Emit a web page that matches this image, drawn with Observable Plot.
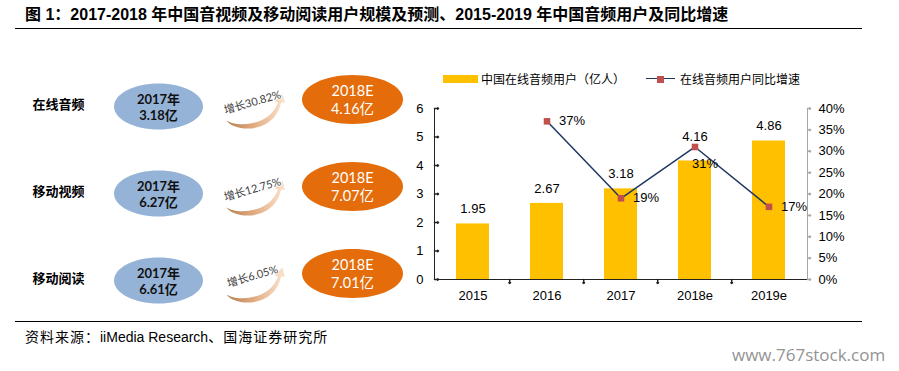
<!DOCTYPE html>
<html><head><meta charset="utf-8">
<script src="https://cdn.jsdelivr.net/npm/d3@7"></script>
<script src="https://cdn.jsdelivr.net/npm/@observablehq/plot@0.6"></script>
<style>
html,body{margin:0;padding:0;background:#fff;}
body{width:899px;height:371px;position:relative;overflow:hidden;font-family:"Liberation Sans",Arial,"Noto Sans CJK SC",sans-serif;color:#000;}
#title{position:absolute;left:25px;top:5px;font-weight:bold;font-size:16px;line-height:20px;white-space:nowrap;font-family:"Liberation Sans",Arial,"Noto Sans CJK SC",sans-serif;}
#rule1{position:absolute;left:15px;top:28px;width:847px;height:0;border-top:1.5px solid #000;}
#rule2{position:absolute;left:15px;top:321px;width:847px;height:0;border-top:1.5px solid #000;}
#source{position:absolute;left:25px;top:328px;font-size:14px;line-height:18px;white-space:nowrap;font-family:"Liberation Sans",Arial,"Noto Sans CJK SC",sans-serif;}
#source .c{letter-spacing:1px;}
#wm{position:absolute;left:732px;top:343px;font-family:"Open Sans",sans-serif;font-size:17px;line-height:24px;color:#939393;white-space:nowrap;}
.lg{position:absolute;font-family:"Noto Sans CJK SC",sans-serif;font-size:12px;line-height:16px;white-space:nowrap;}
#left{position:absolute;left:0;top:40px;}
#right{position:absolute;left:400px;top:90px;}
</style></head>
<body>
<div id="title">图 1：2017-2018 年中国音视频及移动阅读用户规模及预测、2015-2019 年中国音频用户及同比增速</div>
<div id="rule1"></div>
<div id="left"></div>
<div id="legend">
  <div style="position:absolute;left:443px;top:75px;width:35px;height:8px;background:#FFC000;"></div>
  <div class="lg" style="left:481px;top:71px;">中国在线音频用户（亿人）</div>
  <div style="position:absolute;left:646px;top:78px;width:29px;height:0;border-top:1.5px solid #1F3864;"></div>
  <div style="position:absolute;left:657px;top:75.5px;width:7px;height:7px;background:#C0504D;"></div>
  <div class="lg" style="left:680px;top:71px;">在线音频用户同比增速</div>
</div>
<div id="right"></div>
<div id="rule2"></div>
<div id="source"><span class="c">资料来源：</span>iiMedia Research<span class="c">、国海证券研究所</span></div>
<div id="wm">www.767stock.com</div>
<script>
// ---- Left infographic data ----
const cats = ["在线音频", "移动视频", "移动阅读"];
const users2017 = [3.18, 6.27, 6.61];
const users2018E = [4.16, 7.07, 7.01];
const growthPct = [30.82, 12.75, 6.05];
const cols = ["name", "y2017", "growth", "y2018"];

// ---- Right chart data ----
const years = ["2015", "2016", "2017", "2018e", "2019e"];
const audioUsers = [1.95, 2.67, 3.18, 4.16, 4.86];
const audioGrowth = [null, 37, 19, 31, 17];
const leftTicks = [0, 1, 2, 3, 4, 5, 6];
const pctTicks = [0, 5, 10, 15, 20, 25, 30, 35, 40];

// ---- symbols ----
function ellipse(ratio) {
  return {
    draw(ctx, size) {
      const rx = Math.sqrt(size / Math.PI), ry = rx * ratio, k = 0.5523;
      ctx.moveTo(rx, 0);
      ctx.bezierCurveTo(rx, ry * k, rx * k, ry, 0, ry);
      ctx.bezierCurveTo(-rx * k, ry, -rx, ry * k, -rx, 0);
      ctx.bezierCurveTo(-rx, -ry * k, -rx * k, -ry, 0, -ry);
      ctx.bezierCurveTo(rx * k, -ry, rx, -ry * k, rx, 0);
      ctx.closePath();
    }
  };
}
const curvedArrow = {
  draw(ctx) {
    ctx.moveTo(-26, 18);
    ctx.bezierCurveTo(-18, 30, 22, 32, 28.5, 0);
    ctx.lineTo(32.5, 0.5);
    ctx.lineTo(30, -9);
    ctx.lineTo(22, -1);
    ctx.lineTo(25.5, -0.5);
    ctx.bezierCurveTo(18, 24, -16, 25, -26, 18);
    ctx.closePath();
  }
};

const rows = cats.map((c, i) => ({cat: c, u17: users2017[i], u18: users2018E[i], g: growthPct[i]}));
const cjk = "\"Noto Sans CJK SC\", sans-serif";
const latin = "Lato, \"Noto Sans CJK SC\", sans-serif";

const leftPlot = Plot.plot({
  width: 420, height: 290,
  marginLeft: 57, marginRight: 67, marginTop: 63, marginBottom: 53,
  x: {type: "point", domain: cols, padding: 0, axis: null},
  y: {type: "point", domain: cats, padding: 0, axis: null},
  style: {background: "transparent", overflow: "visible"},
  marks: [
    Plot.text(rows, {x: () => "name", y: "cat", text: "cat", fontWeight: "bold", fontSize: 13, fontFamily: cjk, fill: "#000", dy: 1}),
    Plot.dot(rows, {x: () => "y2017", y: "cat", r: 44.5, symbol: ellipse(0.517), fill: "#95B3D7", stroke: "none", dx: 2, dy: 3}),
    Plot.text(rows, {x: () => "y2017", y: "cat", text: d => `2017年\n${d.u17.toFixed(2)}亿`, fontWeight: "bold", fontSize: 13, lineHeight: 1.22, fontFamily: latin, fill: "#111", dx: 2, dy: 3}),
    Plot.dot(rows, {x: () => "y2018", y: "cat", r: 50.5, symbol: ellipse(0.485), fill: "#E46C0A", stroke: "none", dy: -4}),
    Plot.text(rows, {x: () => "y2018", y: "cat", text: d => `2018E\n${d.u18.toFixed(2)}亿`, fontSize: 14.5, lineHeight: 1.18, fontFamily: latin, fill: "#fff", dy: -4}),
    Plot.dot(rows, {x: () => "growth", y: "cat", r: 10, symbol: curvedArrow, fill: "url(#arrowGrad)", stroke: "none", dx: -2, dy: -1}),
    Plot.text(rows, {x: () => "growth", y: "cat", text: d => `增长${d.g.toFixed(2)}%`, rotate: -16, fontSize: 11, fontFamily: latin, fill: "#404040", stroke: "#fff", strokeWidth: 2, dx: -2, dy: -1})
  ]
});
const defs = d3.select(leftPlot).insert("defs", ":first-child");
const lg = defs.append("linearGradient").attr("id", "arrowGrad").attr("x1", "0").attr("x2", "1").attr("y1", "0").attr("y2", "0");
lg.append("stop").attr("offset", "0").attr("stop-color", "#B57E4E");
lg.append("stop").attr("offset", "0.45").attr("stop-color", "#E0AA7E");
lg.append("stop").attr("offset", "1").attr("stop-color", "#FCE4D0");
document.getElementById("left").appendChild(leftPlot);

// ---- right chart ----
const data = years.map((y, i) => ({year: y, users: audioUsers[i], growth: audioGrowth[i]}));
const toPrimary = p => p * 6 / 40;
const lineData = data.filter(d => d.growth != null);
const halfStep = 373 / 5 / 2;

const rightPlot = Plot.plot({
  width: 470, height: 220,
  marginLeft: 34, marginRight: 63, marginTop: 18, marginBottom: 31,
  x: {type: "band", domain: years, paddingInner: 0.56, paddingOuter: 0.28},
  y: {domain: [0, 6]},
  style: {background: "transparent", overflow: "visible", fontFamily: "\"Liberation Sans\", Arial, sans-serif", fontSize: "13px"},
  marks: [
    Plot.barY(data, {x: "year", y: "users", fill: "#FFC000"}),
    Plot.frame({anchor: "left", stroke: "#222"}),
    Plot.frame({anchor: "right", stroke: "#A6A6A6"}),
    Plot.ruleY([0], {stroke: "#222"}),
    Plot.axisY(leftTicks, {anchor: "left", label: null, tickSize: 0, tickPadding: 11, fontSize: 13}),
    Plot.vector(leftTicks, {y: d => d, frameAnchor: "left", length: 4, rotate: 90, anchor: "start", stroke: "#222"}),
    Plot.axisY(pctTicks.map(toPrimary), {anchor: "right", label: null, tickSize: 0, tickPadding: 11, tickFormat: d => Math.round(d * 40 / 6) + "%", fontSize: 13}),
    Plot.vector(pctTicks.map(toPrimary), {y: d => d, frameAnchor: "right", length: 3, rotate: 90, anchor: "start", stroke: "#A6A6A6"}),
    Plot.axisX({label: null, tickSize: 0, tickPadding: 11, fontSize: 13}),
    Plot.vector(years.slice(1), {x: d => d, dx: -halfStep, frameAnchor: "bottom", length: 4, rotate: 180, anchor: "start", stroke: "#222"}),
    Plot.text(data, {filter: d => d.year !== "2018e", x: "year", y: "users", text: d => d.users.toFixed(2), dy: -15, fontSize: 13}),
    Plot.text(data, {filter: d => d.year === "2018e", x: "year", y: "users", text: d => d.users.toFixed(2), dy: -24, fontSize: 13}),
    Plot.line(lineData, {x: "year", y: d => toPrimary(d.growth), stroke: "#1F3864", strokeWidth: 1.5}),
    Plot.dot(lineData, {x: "year", y: d => toPrimary(d.growth), symbol: "square", r: 3.7, fill: "#C0504D", stroke: "none"}),
    Plot.text(lineData, {filter: d => d.year !== "2018e", x: "year", y: d => toPrimary(d.growth), text: d => d.growth + "%", textAnchor: "start", dx: 12, fontSize: 13}),
    Plot.text(lineData, {filter: d => d.year === "2018e", x: "year", y: d => toPrimary(d.growth), text: d => d.growth + "%", dx: 10, dy: 17, fontSize: 13})
  ]
});
document.getElementById("right").appendChild(rightPlot);
</script>
</body></html>
